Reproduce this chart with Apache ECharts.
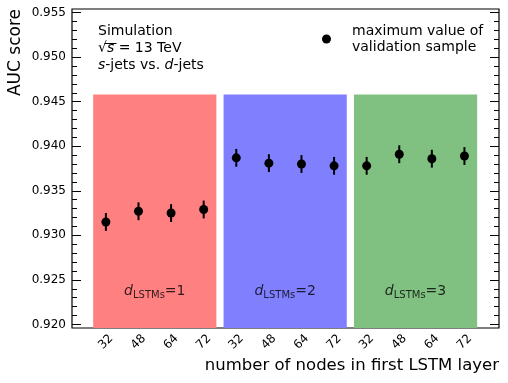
<!DOCTYPE html>
<html>
<head>
<meta charset="utf-8">
<script src="https://cdn.jsdelivr.net/npm/echarts@6/dist/echarts.min.js"></script>
<style>
html, body { margin: 0; padding: 0; background: #fff; }
#main { width: 508px; height: 383px; }
</style>
</head>
<body>
<div id="main"></div>
<script>
// tick labels on the x axis (nodes in first LSTM layer), one per point
var nodeLabels = ['32', '48', '64', '72', '32', '48', '64', '72', '32', '48', '64', '72'];
// AUC score (maximum value of validation sample) and its error
var aucValues = [0.9315, 0.9327, 0.9325, 0.9329, 0.9387, 0.9381, 0.9380, 0.9378, 0.9378, 0.9391, 0.9386, 0.9389];
var aucErrors = [0.0010, 0.0010, 0.0010, 0.0010, 0.0010, 0.0010, 0.0010, 0.0010, 0.0010, 0.0010, 0.0010, 0.0010];
// depth of LSTM stack, one coloured band per group
var groupDepths = ['1', '2', '3'];
var groupRanges = [[-0.39, 3.39], [3.61, 7.39], [7.61, 11.39]];
var groupColors = ['#ff8080', '#8080ff', '#80c080'];
// y ticks
var yTicks = [0.920, 0.925, 0.930, 0.935, 0.940, 0.945, 0.950, 0.955];

var yMin = 0.9196, yMax = 0.9554, bandTop = 0.9458, groupLabelY = 0.9237;
var xMin = -1.04, xMax = 12.06;
var FONT = 'DejaVu Sans';

var xPos = nodeLabels.map(function (l, i) { return i; });
var yMinor = [];
for (var k = 921; k <= 954; k++) {
    if (k % 5 !== 0) yMinor.push(k / 1000);
}

var pointData = aucValues.map(function (v, i) { return [i, v]; });
var errData = aucValues.map(function (v, i) { return [i, v - aucErrors[i], v + aucErrors[i]]; });
var bandData = groupRanges.map(function (r, i) { return [r[0], r[1], i]; });
var groupLabelData = groupRanges.map(function (r, i) {
    return { value: [(r[0] + r[1]) / 2, groupLabelY], depth: groupDepths[i] };
});

var legendName = 'maximum value of\nvalidation sample';

// one line of mixed upright/italic text, pieces laid out side by side
var measureCtx = document.createElement('canvas').getContext('2d');
function textRun(x, y, parts) {
    var out = [];
    parts.forEach(function (p) {
        var italic = p[1];
        measureCtx.font = (italic ? 'italic ' : '') + '14px "' + FONT + '"';
        out.push({
            type: 'text', x: x, y: y,
            style: { text: p[0], fontFamily: FONT, fontSize: 14, fontStyle: italic ? 'italic' : 'normal',
                fill: '#000', align: 'left', verticalAlign: 'middle' }
        });
        x += measureCtx.measureText(p[0]).width;
    });
    return out;
}

function yAxisCfg(pos, ticks, len, labels) {
    return {
        type: 'value',
        position: pos,
        min: yMin,
        max: yMax,
        axisLine: { show: false, onZero: false },
        splitLine: { show: false },
        axisTick: { show: true, inside: true, length: len, customValues: ticks,
            lineStyle: { color: '#000', width: 1 } },
        axisLabel: labels ? {
            show: true, customValues: ticks, margin: 6,
            fontFamily: FONT, fontSize: 12, color: '#000',
            formatter: function (v) { return v.toFixed(3); }
        } : { show: false }
    };
}

var annot = [].concat(
    textRun(98, 31.5, [['Simulation', false]]),
    textRun(98, 48.5, [['√', false], ['s', true], [' = 13 TeV', false]]),
    textRun(98, 65.5, [['s', true], ['-jets vs. ', false], ['d', true], ['-jets', false]])
);
annot.push({
    // bar of the square root over s
    type: 'line',
    shape: { x1: 104.5, y1: 43.5, x2: 116.5, y2: 43.5 },
    style: { stroke: '#000', lineWidth: 1 }
});
annot.push({
    type: 'text', x: 16, y: 9, rotation: Math.PI / 2,
    style: { text: 'AUC score', fontFamily: FONT, fontSize: 17, fill: '#000',
        align: 'right', verticalAlign: 'middle' }
});
annot.push({
    type: 'text', x: 499, y: 366,
    style: { text: 'number of nodes in first LSTM layer', fontFamily: FONT, fontSize: 16.5,
        fill: '#000', align: 'right', verticalAlign: 'middle' }
});

var chart = echarts.init(document.getElementById('main'));

var option = {
    animation: false,
    backgroundColor: '#fff',
    grid: {
        left: 72, right: 9, top: 9, bottom: 55,
        show: true, borderColor: '#000', borderWidth: 1.2, backgroundColor: 'transparent'
    },
    xAxis: {
        type: 'value',
        min: xMin,
        max: xMax,
        axisLine: { show: false, onZero: false },
        splitLine: { show: false },
        axisTick: { show: true, inside: true, length: 9, customValues: xPos,
            lineStyle: { color: '#000', width: 1 } },
        axisLabel: {
            show: true, customValues: xPos, rotate: 45, margin: 14,
            align: 'center', verticalAlign: 'middle',
            fontFamily: FONT, fontSize: 12, color: '#000',
            formatter: function (v) { return nodeLabels[Math.round(v)]; }
        }
    },
    yAxis: [
        yAxisCfg('left', yTicks, 9, true),
        yAxisCfg('right', yTicks, 9, false),
        yAxisCfg('left', yMinor, 5, false),
        yAxisCfg('right', yMinor, 5, false)
    ],
    legend: {
        data: [{ name: legendName, icon: 'circle', itemStyle: { color: '#000', opacity: 1 } }],
        left: 322,
        top: 23,
        padding: 0,
        itemWidth: 9,
        itemHeight: 9,
        textStyle: { fontFamily: FONT, fontSize: 14, lineHeight: 16, color: '#000', padding: [0, 0, 0, 16] }
    },
    graphic: annot,
    series: [
        {
            name: 'bands',
            type: 'custom',
            yAxisIndex: 0,
            silent: true,
            z: 1,
            renderItem: function (params, api) {
                var p0 = api.coord([api.value(0), bandTop]);
                var p1 = api.coord([api.value(1), yMin]);
                return {
                    type: 'rect',
                    shape: { x: p0[0], y: p0[1], width: p1[0] - p0[0], height: p1[1] - p0[1] },
                    style: { fill: groupColors[api.value(2)] }
                };
            },
            data: bandData
        },
        {
            name: 'groupLabels',
            type: 'scatter',
            yAxisIndex: 0,
            symbolSize: 0,
            silent: true,
            z: 3,
            label: {
                show: true,
                position: 'inside',
                formatter: function (p) { return '{it|d}{sub|LSTMs}{n|=' + p.data.depth + '}'; },
                rich: {
                    it: { fontFamily: FONT, fontStyle: 'italic', fontSize: 14, color: '#000', lineHeight: 20 },
                    sub: { fontFamily: FONT, fontSize: 10, color: '#000', lineHeight: 20, padding: [7, 0, 0, 0] },
                    n: { fontFamily: FONT, fontSize: 14, color: '#000', lineHeight: 20 }
                }
            },
            data: groupLabelData
        },
        {
            name: 'errors',
            type: 'custom',
            yAxisIndex: 0,
            z: 4,
            renderItem: function (params, api) {
                var a = api.coord([api.value(0), api.value(1)]);
                var b = api.coord([api.value(0), api.value(2)]);
                return {
                    type: 'line',
                    shape: { x1: a[0], y1: a[1], x2: b[0], y2: b[1] },
                    style: { stroke: '#000', lineWidth: 2 }
                };
            },
            data: errData
        },
        {
            name: legendName,
            type: 'scatter',
            yAxisIndex: 0,
            symbol: 'circle',
            symbolSize: 9,
            z: 5,
            itemStyle: { color: '#000', opacity: 1 },
            data: pointData
        }
    ]
};

chart.setOption(option);

window.addEventListener('resize', function () {
    chart.resize();
});
</script>
</body>
</html>
